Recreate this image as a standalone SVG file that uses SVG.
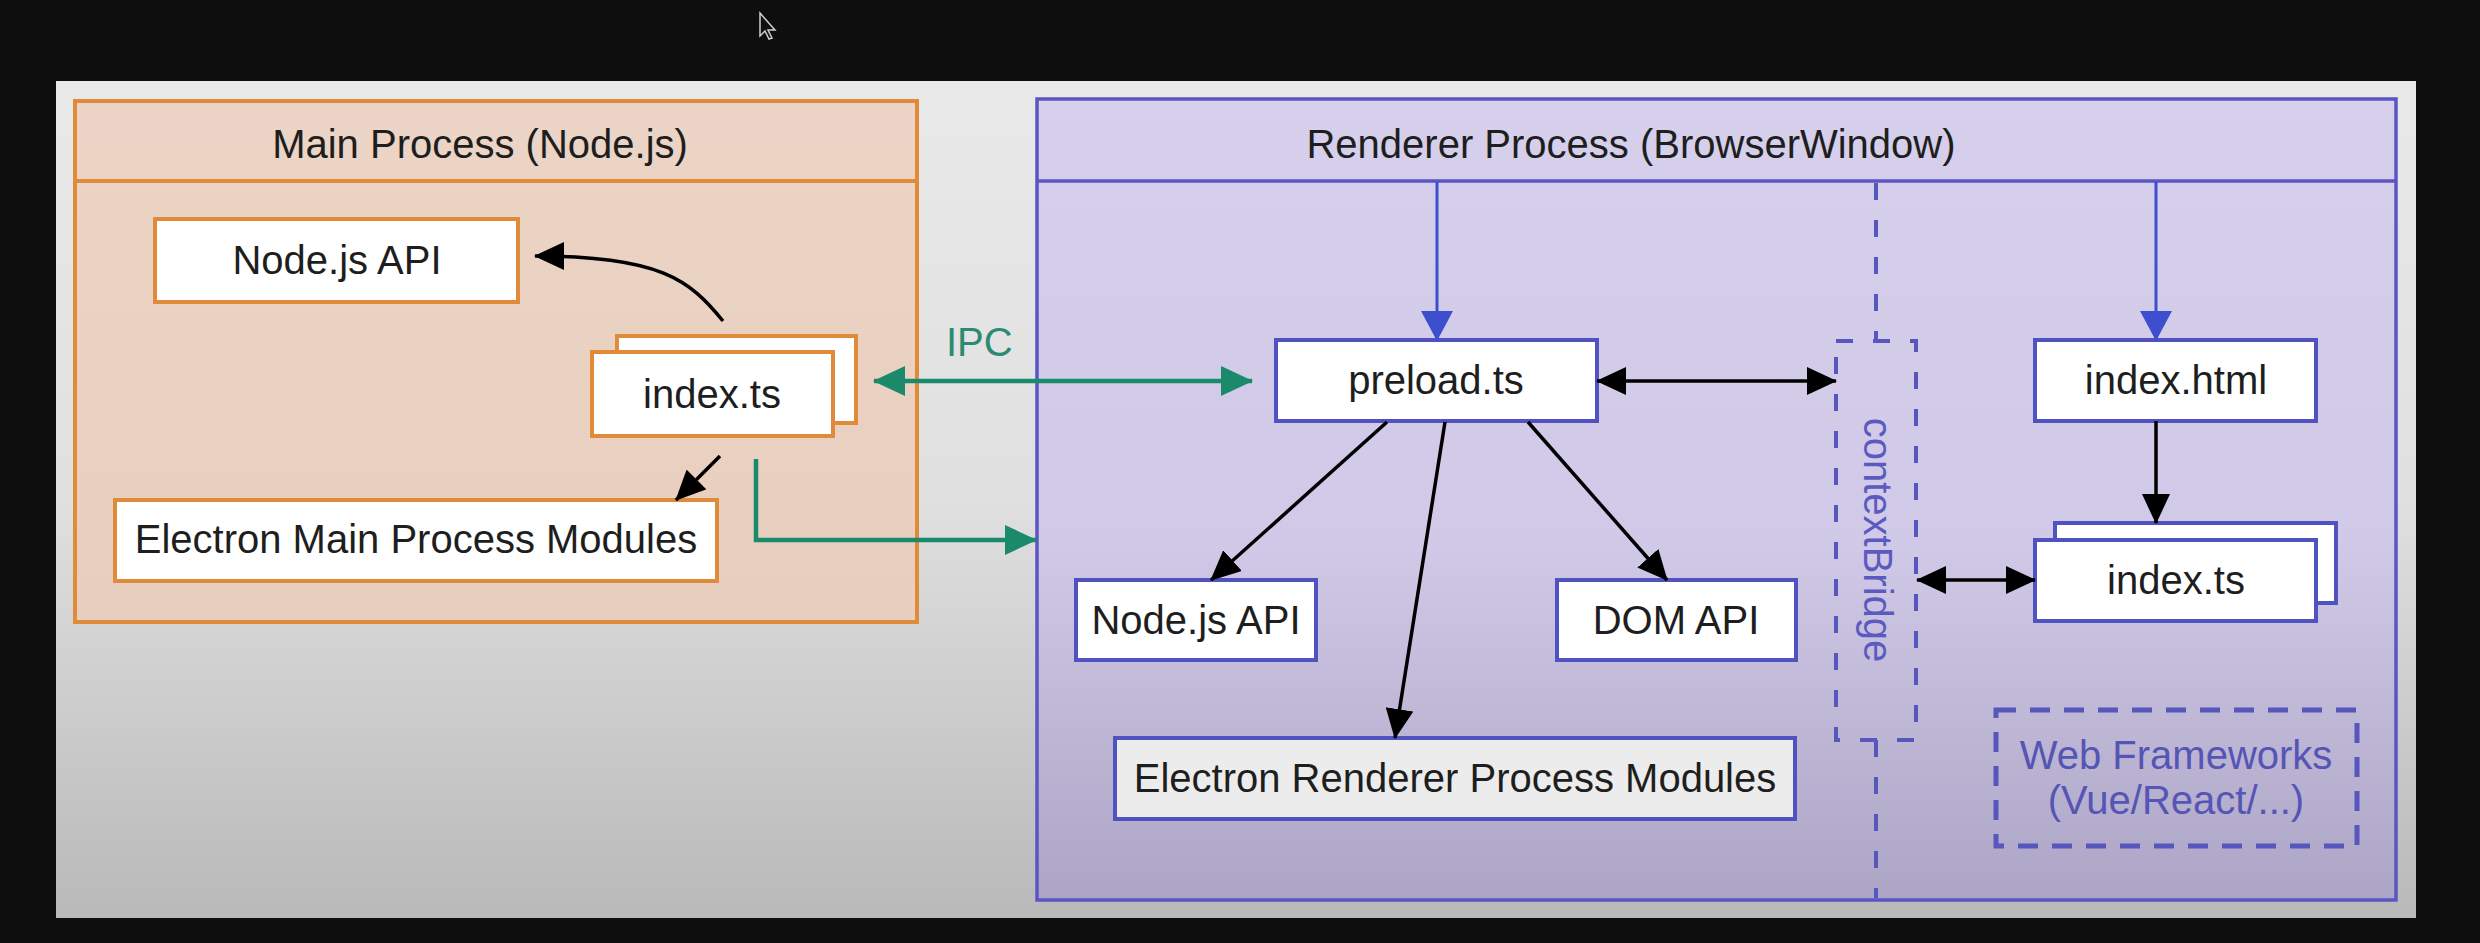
<svg xmlns="http://www.w3.org/2000/svg" width="2480" height="943" viewBox="0 0 2480 943">
  <defs>
    <linearGradient id="gPanel" gradientUnits="userSpaceOnUse" x1="0" y1="81" x2="0" y2="918">
      <stop offset="0" stop-color="#e9e9e9"/>
      <stop offset="0.5" stop-color="#e0e0e0"/>
      <stop offset="1" stop-color="#b9b9b9"/>
    </linearGradient>
    <linearGradient id="gRender" gradientUnits="userSpaceOnUse" x1="0" y1="99" x2="0" y2="900">
      <stop offset="0" stop-color="#d6d0ec"/>
      <stop offset="0.55" stop-color="#d0c9e7"/>
      <stop offset="1" stop-color="#aca5c5"/>
    </linearGradient>
    <linearGradient id="gMain" gradientUnits="userSpaceOnUse" x1="0" y1="100" x2="0" y2="622">
      <stop offset="0" stop-color="#ecd5c6"/>
      <stop offset="1" stop-color="#e8cebe"/>
    </linearGradient>
    <marker id="ahBlack" markerUnits="userSpaceOnUse" markerWidth="30" markerHeight="28" refX="29" refY="14" orient="auto-start-reverse" viewBox="0 0 30 28">
      <path d="M0,0 L30,14 L0,28 Z" fill="#000"/>
    </marker>
    <marker id="ahGreen" markerUnits="userSpaceOnUse" markerWidth="32" markerHeight="30" refX="31" refY="15" orient="auto-start-reverse" viewBox="0 0 32 30">
      <path d="M0,0 L32,15 L0,30 Z" fill="#1b8a6b"/>
    </marker>
    <marker id="ahBlue" markerUnits="userSpaceOnUse" markerWidth="30" markerHeight="32" refX="29" refY="16" orient="auto" viewBox="0 0 30 32">
      <path d="M0,0 L30,16 L0,32 Z" fill="#3d4fcf"/>
    </marker>
    <style>
      text { font-family: "Liberation Sans", Arial, sans-serif; font-size: 40px; fill: #1e1e1e; }
      .title { text-anchor: middle; }
      .lbl { text-anchor: middle; }
      .mainC { fill: url(#gMain); stroke: #e08b3a; stroke-width: 4; }
      .mainN { fill: #ffffff; stroke: #e08b3a; stroke-width: 4; }
      .rendC { fill: url(#gRender); stroke: #5a55c2; stroke-width: 3.5; }
      .rendN { fill: #ffffff; stroke: #5052bf; stroke-width: 4; }
      .dash { fill: none; stroke: #5656bc; stroke-width: 4; stroke-dasharray: 17 20; }
      .dash2 { fill: none; stroke: #5656bc; stroke-width: 5; stroke-dasharray: 20 14; }
      .blk { fill: none; stroke: #000; stroke-width: 3.5; }
      .grn { fill: none; stroke: #1b8a6b; stroke-width: 4.5; }
      .blu { fill: none; stroke: #3d4fcf; stroke-width: 3; }
      .purple { fill: #5656bc; }
    </style>
  </defs>

  <!-- screen background -->
  <rect x="0" y="0" width="2480" height="943" fill="#0e0e0e"/>
  <rect x="56" y="81" width="2360" height="837" fill="url(#gPanel)"/>
  <!-- mouse cursor -->
  <path d="M760,13 L760,36 L765,31 L769,39 L772,38 L768,30 L775,30 Z" fill="#111" stroke="#cfcfcf" stroke-width="1.5"/>

  <!-- Main process container -->
  <g id="main-process">
    <rect class="mainC" x="75" y="101" width="842" height="521"/>
    <line x1="75" y1="181" x2="917" y2="181" stroke="#e08b3a" stroke-width="4"/>
    <text class="title" x="480" y="158">Main Process (Node.js)</text>
  </g>

  <!-- Renderer process container -->
  <g id="renderer-process">
    <rect class="rendC" x="1037" y="99" width="1359" height="801"/>
    <line x1="1037" y1="181" x2="2396" y2="181" stroke="#5a55c2" stroke-width="3.5"/>
    <text class="title" x="1631" y="158">Renderer Process (BrowserWindow)</text>
  </g>

  <!-- Main process nodes -->
  <g id="main-nodejs-api">
    <rect class="mainN" x="155" y="219" width="363" height="83"/>
    <text class="lbl" x="337" y="274">Node.js API</text>
  </g>
  <g id="main-index-ts">
    <rect class="mainN" x="617" y="336" width="239" height="87"/>
    <rect class="mainN" x="592" y="352" width="241" height="84"/>
    <text class="lbl" x="712" y="408">index.ts</text>
  </g>
  <g id="main-electron-modules">
    <rect class="mainN" x="115" y="500" width="602" height="81"/>
    <text class="lbl" x="416" y="553">Electron Main Process Modules</text>
  </g>

  <!-- Renderer nodes -->
  <g id="preload-ts">
    <rect class="rendN" x="1276" y="340" width="321" height="81"/>
    <text class="lbl" x="1436" y="394">preload.ts</text>
  </g>
  <g id="renderer-nodejs-api">
    <rect class="rendN" x="1076" y="580" width="240" height="80"/>
    <text class="lbl" x="1196" y="634">Node.js API</text>
  </g>
  <g id="dom-api">
    <rect class="rendN" x="1557" y="580" width="239" height="80"/>
    <text class="lbl" x="1676" y="634">DOM API</text>
  </g>
  <g id="electron-renderer-modules">
    <rect class="rendN" x="1115" y="738" width="680" height="81" style="fill:#ececec"/>
    <text class="lbl" x="1455" y="792">Electron Renderer Process Modules</text>
  </g>
  <g id="context-bridge">
    <rect class="dash" x="1836" y="341" width="80" height="399"/>
    <text transform="translate(1864,540) rotate(90)" text-anchor="middle" class="purple" style="fill:#5a5abf">contextBridge</text>
  </g>
  <g id="index-html">
    <rect class="rendN" x="2035" y="340" width="281" height="81"/>
    <text class="lbl" x="2176" y="394">index.html</text>
  </g>
  <g id="renderer-index-ts">
    <rect class="rendN" x="2055" y="523" width="281" height="80"/>
    <rect class="rendN" x="2035" y="540" width="281" height="81"/>
    <text class="lbl" x="2176" y="594">index.ts</text>
  </g>
  <g id="web-frameworks">
    <rect class="dash2" x="1996" y="710" width="361" height="136"/>
    <text class="lbl" x="2176" y="769" style="fill:#5555b5">Web Frameworks</text>
    <text class="lbl" x="2176" y="814" style="fill:#5555b5">(Vue/React/...)</text>
  </g>

  <!-- Connectors -->
  <g id="connectors">
    <!-- dashed separator from header to contextBridge and below -->
    <line class="dash" x1="1876" y1="183" x2="1876" y2="341"/>
    <line class="dash" x1="1876" y1="740" x2="1876" y2="898"/>

    <!-- main process -->
    <path class="blk" d="M723,321 C690,280 660,256 535,256" marker-end="url(#ahBlack)"/>
    <line class="blk" x1="720" y1="456" x2="676" y2="500" marker-end="url(#ahBlack)"/>

    <!-- IPC -->
    <line class="grn" x1="874" y1="381" x2="1252" y2="381" marker-start="url(#ahGreen)" marker-end="url(#ahGreen)"/>
    <text x="946" y="356" style="fill:#2a8a72">IPC</text>
    <polyline class="grn" points="756,459 756,540 1036,540" marker-end="url(#ahGreen)"/>

    <!-- renderer -->
    <line class="blu" x1="1437" y1="182" x2="1437" y2="340" marker-end="url(#ahBlue)"/>
    <line class="blu" x1="2156" y1="182" x2="2156" y2="340" marker-end="url(#ahBlue)"/>
    <line class="blk" x1="1597" y1="381" x2="1836" y2="381" marker-start="url(#ahBlack)" marker-end="url(#ahBlack)"/>
    <line class="blk" x1="1387" y1="422" x2="1211" y2="580" marker-end="url(#ahBlack)"/>
    <line class="blk" x1="1445" y1="422" x2="1395" y2="738" marker-end="url(#ahBlack)"/>
    <line class="blk" x1="1528" y1="422" x2="1667" y2="580" marker-end="url(#ahBlack)"/>
    <line class="blk" x1="2156" y1="421" x2="2156" y2="523" marker-end="url(#ahBlack)"/>
    <line class="blk" x1="1917" y1="580" x2="2035" y2="580" marker-start="url(#ahBlack)" marker-end="url(#ahBlack)"/>
  </g>
</svg>
